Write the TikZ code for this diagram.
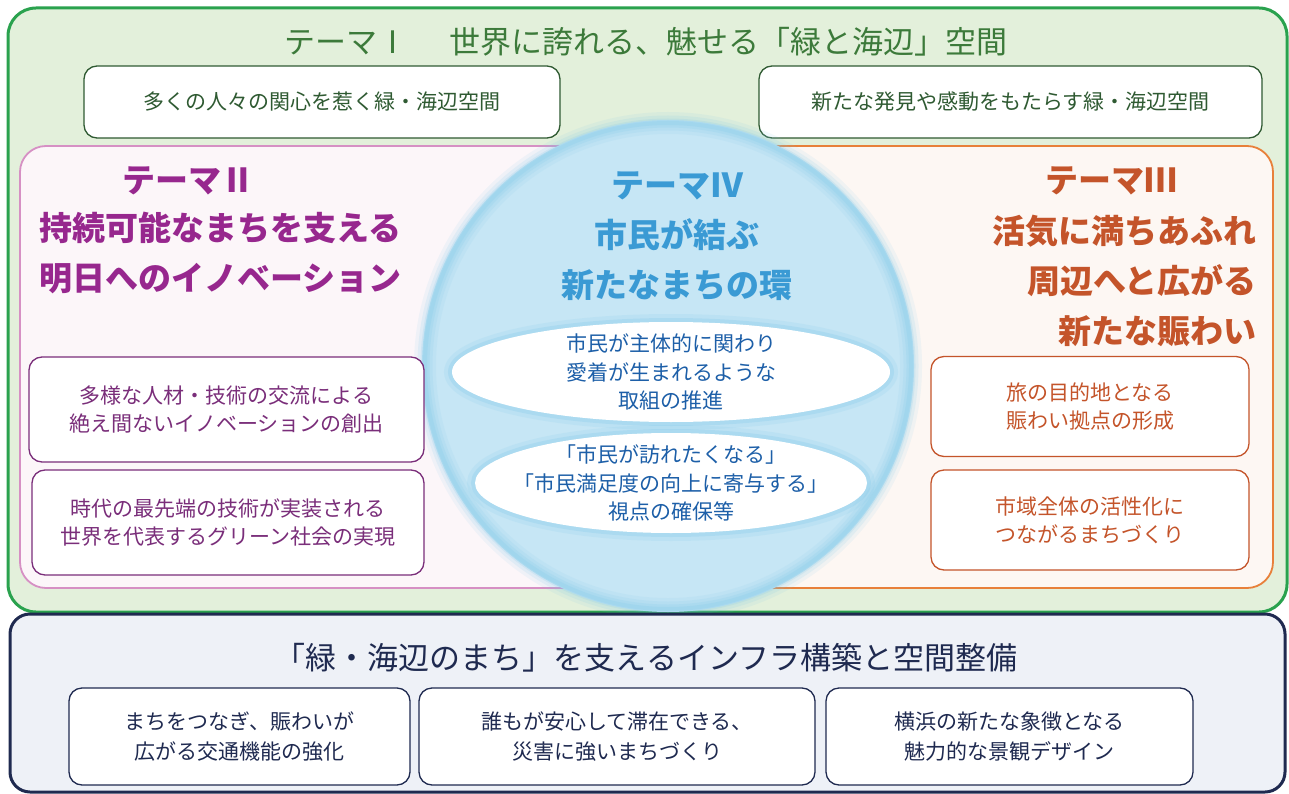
\documentclass[tikz,border=0pt]{standalone}
\usepackage{fontspec}
\setmainfont{Noto Sans CJK JP}
\usetikzlibrary{positioning,shapes.geometric}

\definecolor{greenline}{HTML}{2AA24E}
\definecolor{greenfill}{HTML}{E3F0DB}
\definecolor{greentext}{HTML}{3C7A3A}
\definecolor{greenbox}{HTML}{2F5A32}
\definecolor{pinkline}{HTML}{D690C4}
\definecolor{pinkfill}{HTML}{FCF6F9}
\definecolor{purpletext}{HTML}{97278E}
\definecolor{purplebox}{HTML}{7A2E7A}
\definecolor{orangeline}{HTML}{E8803A}
\definecolor{orangefill}{HTML}{FDF7F3}
\definecolor{orangetext}{HTML}{C4542A}
\definecolor{circlefill}{HTML}{C6E6F5}
\definecolor{glowblue}{HTML}{7FC8EA}
\definecolor{skytext}{HTML}{3A9AD4}
\definecolor{bluetext}{HTML}{1D5FA8}
\definecolor{navyline}{HTML}{1F2A50}
\definecolor{navyfill}{HTML}{EEF1F7}

\begin{document}
\begin{tikzpicture}[x=1pt, y=-1pt]

% Styles
\tikzset{
    panel/.style={rectangle, rounded corners=28pt, line width=3pt},
    subpanel/.style={rectangle, rounded corners=26pt, line width=1.8pt, minimum height=442pt},
    itembox/.style={rectangle, draw, fill=white, rounded corners=13pt, line width=1.3pt, align=center, font=\fontsize{21}{28}\selectfont},
    greenitem/.style={itembox, draw=greenbox, text=greenbox, minimum height=72pt},
    purpleitem/.style={itembox, draw=purplebox, text=purplebox, minimum height=105pt},
    orangeitem/.style={itembox, draw=orangetext, text=orangetext, minimum height=100pt},
    navyitem/.style={itembox, draw=navyline, text=navyline, minimum height=97pt, font=\fontsize{21}{30}\selectfont},
    themehead/.style={font=\fontsize{33}{50}\selectfont\bfseries},
    bubble/.style={ellipse, fill=white, minimum height=100pt,
        preaction={draw=glowblue, line width=16pt, opacity=0.15},
        preaction={draw=glowblue, line width=8pt, opacity=0.25}},
    bubbletext/.style={text=bluetext, align=center, font=\fontsize{21}{28.5}\selectfont}
}

\useasboundingbox (0,0) rectangle (1289,794);

% Theme I frame
\node[panel, draw=greenline, fill=greenfill, minimum width=1279pt, minimum height=604pt] (themeone) at (647.5,310) {};
\node[font=\fontsize{31}{36}\selectfont, text=greentext] (onetitle) at (646,42) {テーマⅠ\hspace{1.3em}世界に誇れる、魅せる「緑と海辺」空間};
\node[greenitem, minimum width=476pt] (oneleft) at (322,102) {多くの人々の関心を惹く緑・海辺空間};
\node[greenitem, minimum width=503pt] (oneright) at (1010.5,102) {新たな発見や感動をもたらす緑・海辺空間};

% Theme II and III panels
\node[subpanel, draw=pinkline, fill=pinkfill, minimum width=625pt] (themetwo) at (332.5,367) {};
\node[subpanel, draw=orangeline, fill=orangefill, minimum width=628pt] (themethree) at (959,367) {};

% Theme IV circle
\node[circle, fill=circlefill, minimum size=492pt] (themefour) at (668,366) {};
\foreach \w/\o in {22/0.10, 15/0.14, 9/0.18, 4/0.22} {
    \draw[glowblue, line width=\w pt, opacity=\o] (themefour.center) circle (243pt);
}

% Theme II texts
\node[themehead, text=purpletext] (twotitle) at (188,181) {テーマⅡ};
\node[themehead, text=purpletext, anchor=west, align=left] (twomain) at (36,253) {持続可能なまちを支える\\明日へのイノベーション};
\node[purpleitem, minimum width=395pt] (twoa) at (226.5,409.5) {多様な人材・技術の交流による\\絶え間ないイノベーションの創出};
\node[purpleitem, minimum width=392pt] (twob) at (228,522.5) {時代の最先端の技術が実装される\\世界を代表するグリーン社会の実現};

% Theme III texts
\node[themehead, text=orangetext] (threetitle) at (1111,181) {テーマⅢ};
\node[themehead, text=orangetext, anchor=east, align=right] (threemain) at (1260,281) {活気に満ちあふれ\\周辺へと広がる\\新たな賑わい};
\node[orangeitem, minimum width=318pt] (threea) at (1090,406.5) {旅の目的地となる\\賑わい拠点の形成};
\node[orangeitem, minimum width=318pt] (threeb) at (1090,520) {市域全体の活性化に\\つながるまちづくり};

% Theme IV texts
\node[themehead, text=skytext, align=center] (fourmain) at (677,236) {テーマⅣ\\市民が結ぶ\\新たなまちの環};
\node[bubble, minimum width=438pt] (foura) at (671,372) {};
\node[bubbletext] (fouratext) at (foura.center) {市民が主体的に関わり\\愛着が生まれるような\\取組の推進};
\node[bubble, minimum width=392pt] (fourb) at (671,483) {};
\node[bubbletext] (fourbtext) at (fourb.center) {「市民が訪れたくなる」\\「市民満足度の向上に寄与する」\\視点の確保等};

% Infrastructure base
\node[panel, rounded corners=20pt, draw=navyline, fill=navyfill, minimum width=1275pt, minimum height=178pt] (base) at (647.5,703) {};
\node[font=\fontsize{31}{36}\selectfont, text=navyline] (basetitle) at (646,658) {「緑・海辺のまち」を支えるインフラ構築と空間整備};
\node[navyitem, minimum width=341pt] (basea) at (239.5,736.5) {まちをつなぎ、賑わいが\\広がる交通機能の強化};
\node[navyitem, minimum width=396pt] (baseb) at (617,736.5) {誰もが安心して滞在できる、\\災害に強いまちづくり};
\node[navyitem, minimum width=367pt] (basec) at (1009.5,736.5) {横浜の新たな象徴となる\\魅力的な景観デザイン};

\end{tikzpicture}
\end{document}
